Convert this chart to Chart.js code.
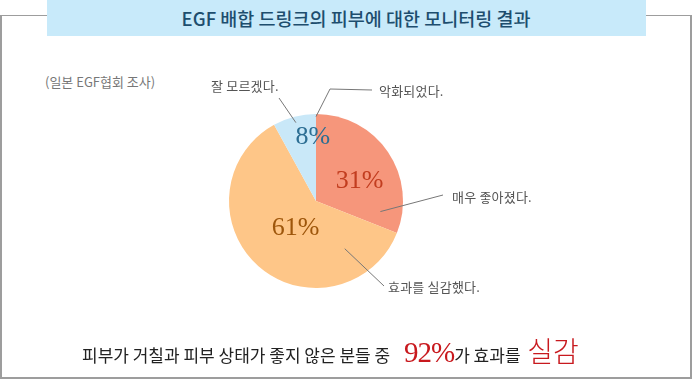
<!DOCTYPE html>
<html>
<head>
<meta charset="utf-8">
<script src="https://cdn.jsdelivr.net/npm/chart.js@4"></script>
<style>
    body { margin: 0; background: #fff; }
    #wrap { position: relative; width: 692px; height: 380px; overflow: hidden; font-family: "Noto Sans CJK KR", sans-serif; }
    #frame { position: absolute; left: 0; top: 15px; width: 688px; height: 361px; border: 2px solid #9d9d9d; border-top-width: 1px; }
    #titleBox { position: absolute; left: 47px; top: 0; width: 599px; height: 36px; background: #c8eafa; }
    #title { position: absolute; left: 0; top: 0; width: 712px; line-height: 36px; text-align: center; font-size: 18.5px; font-weight: 500; color: #1d4e6e; }
    canvas { position: absolute; left: 0; top: 0; }
    .lbl { position: absolute; font-size: 13px; color: #555; white-space: nowrap; line-height: 14px; letter-spacing: 0.2px; }
    #source { position: absolute; left: 45px; top: 72px; font-size: 13px; color: #777; }
    #bottom { position: absolute; left: 82px; top: 330px; font-size: 17px; color: #222; white-space: nowrap; line-height: 40px; }
    #bottom .big { font-family: "Liberation Serif", serif; font-size: 29px; color: #c8191e; letter-spacing: -1px; margin-left: 10px; }
    #bottom .red { font-size: 28px; color: #c8191e; font-weight: 300; margin-left: 3px; }
</style>
</head>
<body>
<div id="wrap">
    <div id="frame"></div>
    <div id="titleBox"></div>
    <div id="title">EGF 배합 드링크의 피부에 대한 모니터링 결과</div>
    <div id="source">(일본 EGF협회 조사)</div>
    <canvas id="pieChart" width="692" height="380"></canvas>
    <div class="lbl" style="left:211px; top:79px;">잘 모르겠다.</div>
    <div class="lbl" style="left:379px; top:84px;">악화되었다.</div>
    <div class="lbl" style="left:452px; top:190px;">매우 좋아졌다.</div>
    <div class="lbl" style="left:388px; top:280px;">효과를 실감했다.</div>
    <div id="bottom">피부가 거칠과 피부 상태가 좋지 않은 분들 중 <span class="big">92%</span>가 효과를 <span class="red">실감</span></div>
</div>

<script>
// survey answers, clockwise from the top
const answers = ['매우 좋아졌다.', '효과를 실감했다.', '잘 모르겠다.', '악화되었다.'];
const percents = [31, 61, 8, 0];

const sliceColors = ['#f6967b', '#fec688', '#c9e8f8', '#f6967b'];
const pctColors = ['#c23d1f', '#9e560b', '#2c6e93', '#555'];

// where the % text sits inside a slice (fraction of angle, fraction of radius)
const pctPlace = [[0.59, 0.55], [0.48, 0.39], [0.9, 0.74], null];

// leader lines: anchor inside the slice, then path to the text label
const leaders = [
    { frac: 0.89, r: 0.75, path: [[443, 195]] },
    { frac: 0.17, r: 0.64, path: [[384, 286]] },
    { frac: 0.5, r: 0.93, path: [[279, 98]] },
    { frac: 0, r: 0.97, path: [[330, 89], [372, 90]] }
];

function slicePoint(arc, frac, rf) {
    const a = arc.startAngle + (arc.endAngle - arc.startAngle) * frac;
    const r = arc.outerRadius * rf;
    return [arc.x + Math.cos(a) * r, arc.y + Math.sin(a) * r];
}

const annotate = {
    id: 'annotate',
    afterDatasetsDraw(chart) {
        const ctx = chart.ctx;
        const arcs = chart.getDatasetMeta(0).data;

        ctx.save();
        ctx.strokeStyle = '#777';
        ctx.lineWidth = 1;
        leaders.forEach((l, i) => {
            const p = slicePoint(arcs[i], l.frac, l.r);
            ctx.beginPath();
            ctx.moveTo(p[0], p[1]);
            l.path.forEach(q => ctx.lineTo(q[0], q[1]));
            ctx.stroke();
        });

        ctx.font = '26px "Liberation Serif", serif';
        ctx.textAlign = 'center';
        ctx.textBaseline = 'middle';
        percents.forEach((v, i) => {
            if (!pctPlace[i]) return;
            const p = slicePoint(arcs[i], pctPlace[i][0], pctPlace[i][1]);
            ctx.fillStyle = pctColors[i];
            ctx.fillText(v + '%', p[0], p[1]);
        });
        ctx.restore();
    }
};

new Chart(document.getElementById('pieChart'), {
    type: 'pie',
    data: {
        labels: answers,
        datasets: [{
            data: percents,
            backgroundColor: sliceColors,
            borderWidth: 0
        }]
    },
    options: {
        responsive: false,
        animation: false,
        layout: { padding: { left: 229, right: 289, top: 114, bottom: 92 } },
        plugins: {
            legend: { display: false },
            tooltip: { enabled: false }
        }
    },
    plugins: [annotate]
});
</script>
</body>
</html>
